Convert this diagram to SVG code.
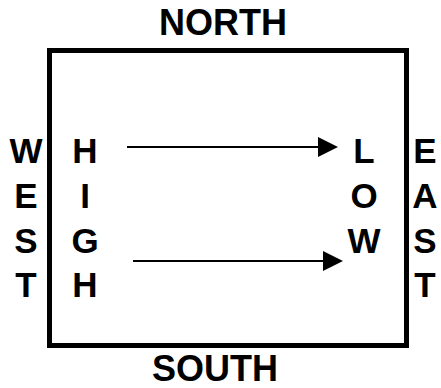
<svg xmlns="http://www.w3.org/2000/svg" width="441" height="388" viewBox="0 0 441 388">
<style>
text{font-family:"Liberation Sans",Arial,sans-serif;font-weight:bold;font-size:35px;fill:#000;text-anchor:middle}
.big{font-size:36px}
.conn{stroke:#000;stroke-width:2;fill:none}
</style>
<rect width="441" height="388" fill="#fff"/>
<g id="box"><rect x="49.5" y="50.5" width="357" height="295" fill="none" stroke="#000" stroke-width="5"/></g>
<g id="north"><text class="big" x="223" y="35">NORTH</text></g>
<g id="south"><text class="big" x="215" y="381">SOUTH</text></g>
<g id="west"><text x="26" y="163">W</text><text x="26" y="208">E</text><text x="26" y="253">S</text><text x="26" y="297">T</text></g>
<g id="high"><text x="85" y="163">H</text><text x="85" y="208">I</text><text x="85" y="253">G</text><text x="85" y="297">H</text></g>
<g id="low"><text x="364" y="163">L</text><text x="364" y="208">O</text><text x="364" y="253">W</text></g>
<g id="east"><text x="425" y="163">E</text><text x="425" y="208">A</text><text x="425" y="253">S</text><text x="425" y="297">T</text></g>
<g id="connectors">
<line class="conn" x1="127" y1="147" x2="320" y2="147"/>
<polygon points="318,137 338,147 318,157"/>
<line class="conn" x1="133" y1="261" x2="325" y2="261"/>
<polygon points="323,251 343,261 323,271"/>
</g>
</svg>
